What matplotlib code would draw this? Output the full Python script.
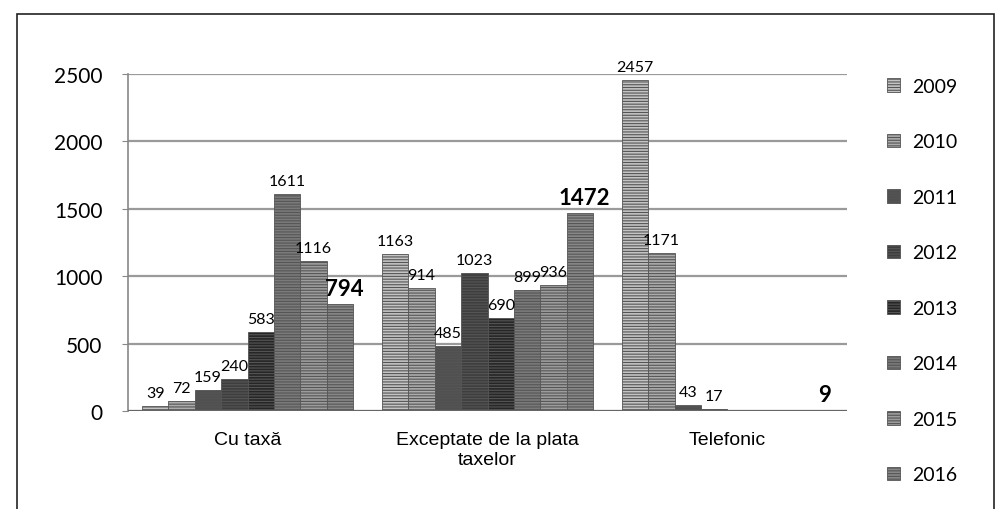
import matplotlib
matplotlib.use("Agg")
import matplotlib.pyplot as plt
import numpy as np
from matplotlib.patches import Rectangle

plt.rcParams["hatch.color"] = "#f0f0f0"
plt.rcParams["hatch.linewidth"] = 0.8

categories = ["Cu taxă", "Exceptate de la plata\ntaxelor", "Telefonic"]
years = ["2009", "2010", "2011", "2012", "2013", "2014", "2015", "2016"]
v2009 = [39, 1163, 2457]
v2010 = [72, 914, 1171]
v2011 = [159, 485, 43]
v2012 = [240, 1023, 17]
v2013 = [583, 690, 0]
v2014 = [1611, 899, 0]
v2015 = [1116, 936, 0]
v2016 = [794, 1472, 9]
series = [v2009, v2010, v2011, v2012, v2013, v2014, v2015, v2016]
yticks = [0, 500, 1000, 1500, 2000, 2500]

colors = ["#c4c4c4", "#acacac", "#505050", "#3e3e3e", "#262626", "#7a7a7a", "#9c9c9c", "#888888"]

fig = plt.figure(figsize=(9.97, 5.10), dpi=100)
ax = fig.add_axes([0.128, 0.192, 0.722, 0.661])

x = np.arange(len(categories))
w = 0.11
n = len(series)
lab_font = ["Lato", "DejaVu Sans"]
for i, (vals, c) in enumerate(zip(series, colors)):
    pos = x + (i - (n - 1) / 2) * w
    ax.bar(pos, vals, width=w, color=c, edgecolor="#555555", linewidth=0.6,
           hatch="------", label=years[i], zorder=3)
    for p, v in zip(pos, vals):
        if v == 0:
            continue
        if i == n - 1:
            ax.text(p + 0.02, v + 35, str(v), ha="center", va="bottom", fontsize=16,
                    fontweight="bold", family=lab_font, zorder=5)
        else:
            ax.text(p, v + 45, str(v), ha="center", va="bottom", fontsize=11.5,
                    family=lab_font, zorder=5)

ax.set_xlim(-0.5, 2.5)
ax.set_ylim(0, 2500)
ax.set_yticks(yticks)
ax.set_yticklabels([str(t) for t in yticks], fontsize=15, family=lab_font)
ax.set_xticks(x)
ax.set_xticklabels(categories, fontsize=14,
                   family=["Liberation Sans Narrow", "Liberation Sans", "DejaVu Sans"],
                   linespacing=1.25)
ax.tick_params(axis="x", length=0, pad=14)
ax.tick_params(axis="y", length=4, color="#888888", pad=14)
ax.grid(axis="y", color="#9a9a9a", linewidth=1.6, linestyle="-", zorder=0)
for s in ["top", "right", "bottom"]:
    ax.spines[s].set_visible(False)
ax.spines["left"].set_color("#888888")
ax.spines["left"].set_linewidth(1.2)
ax.axhline(0, color="#666666", linewidth=1.5, zorder=4)

fig.legend(loc="upper left", bbox_to_anchor=(0.872, 0.88), frameon=False,
           labelspacing=1.98, handlelength=0.7, handleheight=0.7,
           handletextpad=0.6, prop={"family": lab_font, "size": 14})

fig.patches.append(Rectangle((0.017, -0.05), 0.98, 1.02, transform=fig.transFigure,
                             fill=False, edgecolor="#222222", linewidth=1.2))

fig.savefig("out.png", dpi=100)
